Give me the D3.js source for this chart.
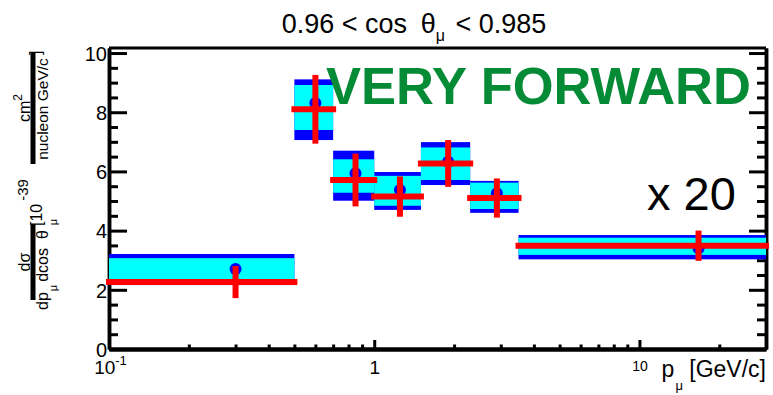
<!DOCTYPE html>
<html>
<head>
<meta charset="utf-8">
<script src="https://cdn.jsdelivr.net/npm/d3@7"></script>
<style>
  body { margin: 0; background: #fff; }
  svg { display: block; }
  text { font-family: "Liberation Sans", Arial, Helvetica, sans-serif; fill: #000; }
</style>
</head>
<body>
<div id="chart"></div>
<script>
// bins in p_mu [GeV/c]
const binEdges = [0.1, 0.5, 0.7, 1.0, 1.5, 2.3, 3.5, 30];
// outer (blue) and inner (cyan) uncertainty bands, 10^-39 cm2/nucleon/GeV/c
const bandHi = [3.21, 9.11, 6.70, 5.98, 6.99, 5.68, 3.85];
const bandLo = [2.16, 7.06, 5.01, 4.70, 5.54, 4.60, 3.03];
const innerHi = [3.07, 8.92, 6.41, 5.85, 6.81, 5.62, 3.76];
const innerLo = [2.25, 7.40, 5.28, 4.84, 5.71, 4.73, 3.18];
const bandCentre = [2.70, 8.31, 5.94, 5.37, 6.33, 5.26, 3.40];
// red points
const pointX = [0.30, 0.60, 0.85, 1.25, 1.9, 2.9, 16.7];
const pointY = [2.26, 8.10, 5.71, 5.15, 6.27, 5.10, 3.49];
const pointErr = [0.44, 1.06, 0.79, 0.58, 0.69, 0.56, 0.41];

const yMajor = [0, 2, 4, 6, 8, 10];
const yMinor = [0.5, 1, 1.5, 2.5, 3, 3.5, 4.5, 5, 5.5, 6.5, 7, 7.5, 8.5, 9, 9.5];
const xMajor = [0.1, 1, 10];
const xMinor = [0.2, 0.3, 0.4, 0.5, 0.6, 0.7, 0.8, 0.9, 2, 3, 4, 5, 6, 7, 8, 9, 20];

const width = 773, height = 395;
const margin = { top: 48, right: 7, bottom: 46, left: 109 };

const svg = d3.select('#chart').append('svg')
  .attr('width', width)
  .attr('height', height);

const x = d3.scaleLog().domain([0.1, 30]).range([margin.left, width - margin.right]);
const y = d3.scaleLinear().domain([0, 10.17]).range([height - margin.bottom, margin.top]);

const x0 = x.range()[0], x1 = x.range()[1];
const y0 = y.range()[0], y1 = y.range()[1];

function styleAxis(g, w) {
  g.select('.domain').attr('stroke-width', w);
  g.selectAll('.tick line').attr('stroke-width', 3);
}

// frame top
svg.append('line')
  .attr('x1', x0).attr('x2', x1)
  .attr('y1', y1).attr('y2', y1)
  .attr('stroke', '#000').attr('stroke-width', 3);

// left axis
svg.append('g').attr('transform', 'translate(' + x0 + ',0)')
  .call(d3.axisLeft(y).tickValues(yMinor).tickSize(-9).tickSizeOuter(0).tickFormat(''))
  .call(g => styleAxis(g, 3.5));
const yAx = svg.append('g').attr('transform', 'translate(' + x0 + ',0)')
  .call(d3.axisLeft(y).tickValues(yMajor).tickSize(-18).tickSizeOuter(0).tickPadding(2).tickFormat(d3.format('d')))
  .call(g => styleAxis(g, 3.5));
yAx.selectAll('.tick text').attr('font-size', 20).attr('dy', '0.36em')
  .style('font-family', '"Liberation Sans", Arial, sans-serif');

// right axis
svg.append('g').attr('transform', 'translate(' + x1 + ',0)')
  .call(d3.axisRight(y).tickValues(yMinor).tickSize(-9).tickSizeOuter(0).tickFormat(''))
  .call(g => styleAxis(g, 3.5));
svg.append('g').attr('transform', 'translate(' + x1 + ',0)')
  .call(d3.axisRight(y).tickValues(yMajor).tickSize(-17).tickSizeOuter(0).tickFormat(''))
  .call(g => styleAxis(g, 3.5));

// bottom axis
svg.append('g').attr('transform', 'translate(0,' + y0 + ')')
  .call(d3.axisBottom(x).tickValues(xMinor).tickSize(-4.5).tickSizeOuter(0).tickFormat(''))
  .call(g => styleAxis(g, 4));
const xAx = svg.append('g').attr('transform', 'translate(0,' + y0 + ')')
  .call(d3.axisBottom(x).tickValues(xMajor).tickSize(-9).tickSizeOuter(0).tickFormat(''))
  .call(g => styleAxis(g, 4));

xAx.selectAll('.tick').each(function (d) {
  const t = d3.select(this).append('text')
    .attr('fill', '#000')
    .attr('text-anchor', 'middle')
    .style('font-family', '"Liberation Sans", Arial, sans-serif');
  if (d === 0.1) {
    t.attr('y', 25).attr('font-size', 19).attr('dx', 1);
    t.append('tspan').text('10');
    t.append('tspan').attr('font-size', 13).attr('dy', -9).text('-1');
  } else if (d === 1) {
    t.attr('y', 25).attr('font-size', 19).text('1');
  } else {
    t.attr('y', 22).attr('font-size', 14).text('10');
  }
});

// data bands
const bins = binEdges.slice(0, -1).map((lo, i) => ({
  lo: lo, hi: binEdges[i + 1],
  bHi: bandHi[i], bLo: bandLo[i], iHi: innerHi[i], iLo: innerLo[i],
  c: bandCentre[i], px: pointX[i], py: pointY[i], err: pointErr[i]
}));

const gData = svg.append('g');

gData.selectAll('rect.outer').data(bins).enter().append('rect')
  .attr('class', 'outer')
  .attr('x', d => x(d.lo))
  .attr('width', d => x(d.hi) - x(d.lo))
  .attr('y', d => y(d.bHi))
  .attr('height', d => y(d.bLo) - y(d.bHi))
  .attr('fill', '#0000ff');

gData.selectAll('rect.inner').data(bins).enter().append('rect')
  .attr('class', 'inner')
  .attr('x', d => x(d.lo))
  .attr('width', d => x(d.hi) - x(d.lo))
  .attr('y', d => y(d.iHi))
  .attr('height', d => y(d.iLo) - y(d.iHi))
  .attr('fill', '#00ffff');

gData.selectAll('circle').data(bins).enter().append('circle')
  .attr('cx', d => x(d.px))
  .attr('cy', d => y(d.c))
  .attr('r', 6)
  .attr('fill', '#0000ff');

gData.selectAll('line.h').data(bins).enter().append('line')
  .attr('class', 'h')
  .attr('x1', d => x(d.lo)).attr('x2', d => x(d.hi))
  .attr('y1', d => y(d.py)).attr('y2', d => y(d.py))
  .attr('stroke', '#ff0000').attr('stroke-width', 6).attr('stroke-linecap', 'square');

gData.selectAll('line.v').data(bins).enter().append('line')
  .attr('class', 'v')
  .attr('x1', d => x(d.px)).attr('x2', d => x(d.px))
  .attr('y1', d => y(d.py - d.err)).attr('y2', d => y(d.py + d.err))
  .attr('stroke', '#ff0000').attr('stroke-width', 6).attr('stroke-linecap', 'square');

// title
const title = svg.append('text')
  .attr('x', 414).attr('y', 33)
  .attr('text-anchor', 'middle')
  .attr('font-size', 27);
title.append('tspan').text('0.96 < cos ');
title.append('tspan').attr('dx', 6).text('θ');
title.append('tspan').attr('font-size', 16).attr('dy', 8).text('μ');
title.append('tspan').attr('dy', -8).attr('dx', 3).text(' < 0.985');

// labels in the plot
svg.append('text')
  .attr('x', 326).attr('y', 104)
  .attr('font-size', 52.5).attr('font-weight', 'bold')
  .style('fill', '#058a35')
  .text('VERY FORWARD');

svg.append('text')
  .attr('x', 647).attr('y', 210)
  .attr('font-size', 47)
  .text('x 20');

// x-axis title
const xt = svg.append('text')
  .attr('x', 766).attr('y', 377)
  .attr('text-anchor', 'end')
  .attr('font-size', 23);
xt.append('tspan').text('p');
xt.append('tspan').attr('font-size', 13).attr('dy', 13).attr('dx', 1).text('μ');
xt.append('tspan').attr('dy', -13).text(' [GeV/c]');

// y-axis title (rotated)
const yt = svg.append('g').attr('transform', 'translate(33,0) rotate(-90)');
// fraction 1: dσ / dp_μ dcos θ_μ
yt.append('line')
  .attr('x1', -300).attr('x2', -224).attr('y1', 0).attr('y2', 0)
  .attr('stroke', '#000').attr('stroke-width', 5);
yt.append('text').attr('x', -262).attr('y', -3)
  .attr('text-anchor', 'middle').attr('font-size', 16).text('dσ');
const den1 = yt.append('text').attr('x', -310).attr('y', 15).attr('font-size', 16);
den1.append('tspan').text('dp');
den1.append('tspan').attr('font-size', 11).attr('dy', 9).attr('dx', 1).text('μ');
den1.append('tspan').attr('dy', -9).attr('dx', 3).text('dcos');
den1.append('tspan').attr('dx', 9).text('θ');
den1.append('tspan').attr('font-size', 11).attr('dy', 9).attr('dx', 5).text('μ');
// [10^-39
const pw = yt.append('text').attr('x', -226).attr('y', 9).attr('font-size', 16);
pw.append('tspan').text('[10');
pw.append('tspan').attr('font-size', 15).attr('dy', -14).attr('dx', 3).text('-39');
// fraction 2: cm² / nucleon GeV/c
yt.append('line')
  .attr('x1', -164).attr('x2', -52).attr('y1', 0).attr('y2', 0)
  .attr('stroke', '#000').attr('stroke-width', 5);
const num2 = yt.append('text').attr('x', -108).attr('y', -3)
  .attr('text-anchor', 'middle').attr('font-size', 16);
num2.append('tspan').text('cm');
num2.append('tspan').attr('font-size', 12).attr('dy', -8).text('2');
yt.append('text').attr('x', -109).attr('y', 15)
  .attr('text-anchor', 'middle').attr('font-size', 15.5).text('nucleon GeV/c');
yt.append('text').attr('x', -55).attr('y', 8).attr('font-size', 16).text(']');
</script>
</body>
</html>
